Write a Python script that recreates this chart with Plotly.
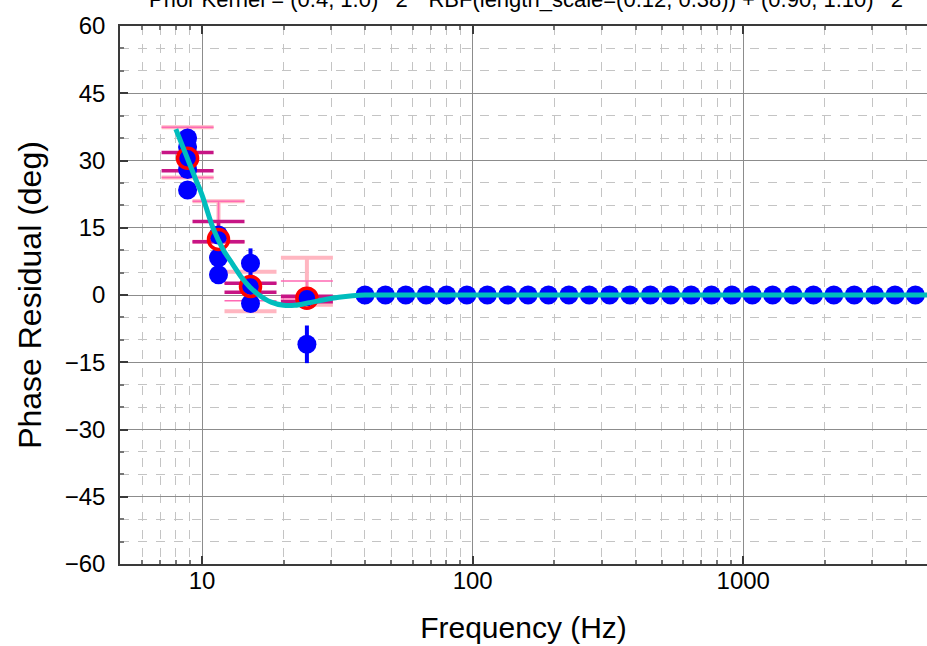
import plotly.graph_objects as go

# ---- data ----
# individual measurements (blue)
meas_f = [8.84, 8.84, 8.84, 8.84, 8.84,
          11.5, 11.5, 11.5,
          15.1, 15.1, 15.1,
          24.4, 24.4,
          40.0, 47.6, 56.6, 67.3, 80.1, 95.2, 113.3, 134.7, 160.2, 190.6,
          226.7, 269.6, 320.7, 381.4, 453.6, 539.6, 641.8, 763.3, 908.0, 1080,
          1284, 1528, 1817, 2161, 2571, 3058, 3637, 4326]
meas_y = [35.0, 33.0, 30.5, 28.0, 23.4,
          13.4, 8.3, 4.5,
          7.1, 2.2, -1.9,
          -0.4, -11.0,
          0, 0, 0, 0, 0, 0, 0, 0, 0, 0,
          0, 0, 0, 0, 0, 0, 0, 0, 0, 0,
          0, 0, 0, 0, 0, 0, 0, 0]
meas_err = [1.5, 1.5, 1.5, 1.5, 1.5,
            1.0, 1.0, 1.0,
            3.3, 1.0, 1.0,
            1.0, 4.2,
            0, 0, 0, 0, 0, 0, 0, 0, 0, 0,
            0, 0, 0, 0, 0, 0, 0, 0, 0, 0,
            0, 0, 0, 0, 0, 0, 0, 0]

# binned means (red open circles)
bin_f = [8.84, 11.5, 15.1, 24.4]
bin_y = [30.5, 12.4, 1.9, -0.7]

# spread bars (centre, +/-)
wide_c = [31.8, 16.4, 0.8, 3.05]
wide_e = [5.6, 4.5, 4.4, 5.25]
mid_c = [31.8, 16.4, 0.65, 1.1]
mid_e = [5.6, 4.5, 1.95, 2.0]
narrow_c = [29.75, 14.15, 1.6, -0.9]
narrow_e = [2.05, 2.25, 1.0, 0.6]

# GP fit curve (cyan)
fit_f = [8.0, 8.5, 9.0, 9.5, 10, 11, 12, 13, 14, 15, 16, 18, 20, 22, 25, 28, 32,
         36, 40, 50, 100, 300, 1000, 3000, 5000]
fit_y = [37.0, 33.0, 29.2, 25.6, 22.3, 14.8, 10.0, 6.8, 3.9, 1.8, 0.3, -1.6, -2.3,
         -2.3, -1.7, -1.1, -0.5, -0.15, 0, 0, 0, 0, 0, 0, 0]

y_ticks = [-60, -45, -30, -15, 0, 15, 30, 45, 60]
x_ticks = [10, 100, 1000]
x_ticktext = ["10", "100", "1000"]
x_minor = [6, 7, 8, 9, 20, 30, 40, 50, 60, 70, 80, 90,
           200, 300, 400, 500, 600, 700, 800, 900, 2000, 3000, 4000]

title_text = "Prior Kernel = (0.4, 1.0)**2 * RBF(length_scale=(0.12, 0.38)) + (0.90, 1.10)**2"

FONT = "Liberation Sans, Arial, sans-serif"
clear = "rgba(0,0,0,0)"

fig = go.Figure()


def spread(c, e, color, thick):
    return go.Scatter(
        x=bin_f, y=c, mode="markers",
        marker=dict(size=2, color=clear),
        error_y=dict(type="data", array=e, color=color, thickness=thick, width=26),
        showlegend=False, hoverinfo="skip")


fig.add_trace(spread(wide_c, wide_e, "#FFB6C1", 4))
fig.add_trace(spread(mid_c, mid_e, "#FF69B4", 1.5))
fig.add_trace(spread(narrow_c, narrow_e, "#C71585", 3.5))

fig.add_trace(go.Scatter(
    x=meas_f, y=meas_y, mode="markers",
    marker=dict(size=19, color="#0000FF", line=dict(width=0)),
    error_y=dict(type="data", array=meas_err, color="#0000FF", thickness=4, width=0),
    showlegend=False))

fig.add_trace(go.Scatter(
    x=bin_f, y=bin_y, mode="markers",
    marker=dict(size=20, color=clear, line=dict(color="#FF0000", width=3.5)),
    showlegend=False))

fig.add_trace(go.Scatter(
    x=fit_f, y=fit_y, mode="lines", line=dict(color="#00BDBD", width=5, shape="spline"),
    showlegend=False))

fig.add_annotation(
    text=title_text, xref="paper", yref="paper", x=0.503, y=1, xanchor="center",
    yanchor="bottom", yshift=12, showarrow=False,
    font=dict(family=FONT, size=22, color="black"))

axis_common = dict(
    showline=True, linecolor="#3a3a3a", linewidth=1.5,
    ticks="inside", ticklen=8, tickwidth=1.5, tickcolor="#3a3a3a",
    showgrid=True, gridcolor="#8c8c8c", gridwidth=1,
    zeroline=False,
    tickfont=dict(family=FONT, size=24, color="black"),
)

fig.update_xaxes(
    type="log", range=[0.6967, 3.679],
    tickvals=x_ticks, ticktext=x_ticktext,
    mirror="allticks",
    ticklabelstandoff=-6,
    minor=dict(tickvals=x_minor, showgrid=True, gridcolor="#c4c4c4", griddash="dash",
               ticks="inside", ticklen=4, tickcolor="#777777"),
    title=dict(text="Frequency (Hz)", font=dict(family=FONT, size=30, color="black"),
               standoff=24),
    **axis_common)

fig.update_yaxes(
    range=[-60, 60], tickvals=y_ticks,
    minor=dict(dtick=5, showgrid=True, gridcolor="#c4c4c4", griddash="dash",
               ticks="inside", ticklen=4, tickcolor="#777777"),
    ticklabelstandoff=8,
    title=dict(text="Phase Residual (deg)", font=dict(family=FONT, size=32, color="black"),
               standoff=14),
    **axis_common)

fig.update_layout(
    width=927, height=646,
    margin=dict(l=120, r=0, t=26, b=82, autoexpand=False),
    plot_bgcolor="white", paper_bgcolor="white",
    font=dict(family=FONT, color="black"),
    showlegend=False,
)

fig.write_html(
    "out.html",
    config={"displayModeBar": False},
    post_script="document.body.style.margin='0px';document.body.style.overflow='hidden';",
)
